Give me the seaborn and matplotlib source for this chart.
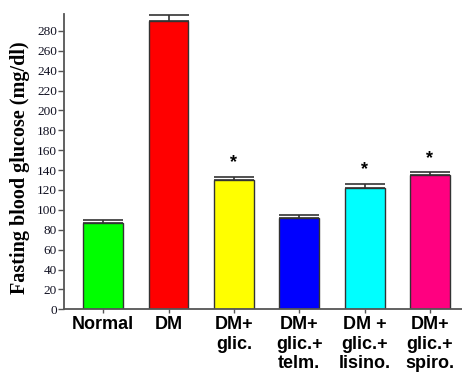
import matplotlib
matplotlib.use("Agg")
import matplotlib.pyplot as plt
import matplotlib.transforms as mtransforms
import seaborn as sns
import pandas as pd

# Group labels, means and upper SEM
groups = ["Normal", "DM", "DM+\nglic.", "DM+\nglic.+\ntelm.", "DM +\nglic.+\nlisino.", "DM+\nglic.+\nspiro."]
glucose = [87, 290, 130, 92, 122.5, 135]
sem = [3, 6, 3.5, 3, 4, 3]
significant = [False, False, True, False, True, True]
bar_colors = ["#00FF00", "#FF0000", "#FFFF00", "#0000FF", "#00FFFF", "#FF0080"]
y_ticks = list(range(0, 281, 20))

sns.set_style("ticks")
plt.rcParams["font.family"] = ["Liberation Serif", "DejaVu Serif"]
plt.rcParams["text.color"] = "black"
plt.rcParams["xtick.color"] = "#555555"
plt.rcParams["ytick.color"] = "#555555"

df = pd.DataFrame({"group": groups, "glucose": glucose})

fig = plt.figure(figsize=(4.62, 3.72), dpi=100)
ax = fig.add_axes([0.1385, 0.1685, 0.8615, 0.7939])

sns.barplot(data=df, x="group", y="glucose", hue="group", palette=bar_colors,
            order=groups, hue_order=groups, legend=False, width=0.61,
            saturation=1, edgecolor="#333333", linewidth=1.0, errorbar=None, ax=ax)

# upper-only error bars
xs = list(range(len(groups)))
ax.errorbar(xs, glucose, yerr=[[0] * len(sem), sem], fmt="none",
            ecolor="#333333", elinewidth=1.2, capsize=14.4, capthick=1.2, zorder=3)

# significance markers
for x, v, e, s in zip(xs, glucose, sem, significant):
    if s:
        ax.text(x, v + e + 14, "*", ha="center", va="center", fontsize=13,
                fontweight="bold", family=["Liberation Sans", "DejaVu Sans"], color="black")

ax.set_xlim(-0.6, 5.49)
ax.set_ylim(0, 297)
ax.set_yticks(y_ticks)
ax.set_yticklabels([str(t) for t in y_ticks], fontsize=9.5, color="#111122")
ax.set_ylabel("Fasting blood glucose (mg/dl)", fontsize=14.5, fontweight="bold",
              color="black", labelpad=5)
ax.yaxis.set_label_coords(-0.085, 0.48)
ax.set_xlabel("")
ax.set_xticks(xs)
ax.set_xticklabels(groups, fontsize=13, fontweight="bold", color="black",
                   family=["Liberation Sans", "DejaVu Sans"], linespacing=1.2)

# small per-label vertical offsets (points)
offsets = [1.5, -3, 1, -0.5, -2, 1.5]
for lbl, off in zip(ax.get_xticklabels(), offsets):
    lbl.set_transform(lbl.get_transform() +
                      mtransforms.ScaledTranslation(0, off / 72, fig.dpi_scale_trans))

for side in ["top", "right"]:
    ax.spines[side].set_visible(False)
for side in ["left", "bottom"]:
    ax.spines[side].set_color("#555555")
    ax.spines[side].set_linewidth(1.3)
ax.tick_params(axis="y", length=4, width=1, color="#555555", pad=1)
ax.tick_params(axis="x", length=3, width=1, color="#555555", pad=2)

fig.savefig("out.png", dpi=100)
